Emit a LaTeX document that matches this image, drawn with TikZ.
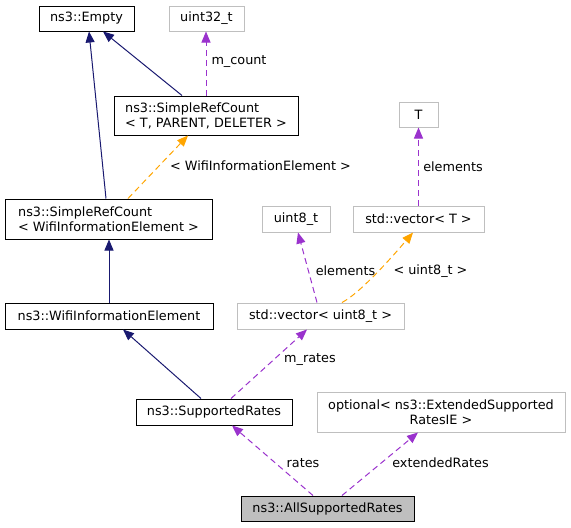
\documentclass[tikz,border=0pt]{standalone}
\usepackage{fontspec}
\setmainfont{DejaVu Sans}
\usetikzlibrary{arrows.meta}
\definecolor{navy}{HTML}{191970}
\definecolor{purp}{HTML}{9A32CD}
\definecolor{orng}{HTML}{FFA500}
\definecolor{gbord}{HTML}{BFBFBF}
\begin{document}
\begin{tikzpicture}[x=1pt,y=-1pt,
  font=\fontsize{12.8pt}{15pt}\selectfont,
  cls/.style={draw=black, line width=1pt, inner sep=0pt, fill=white},
  ext/.style={draw=gbord, line width=1pt, inner sep=0pt, fill=white},
  cur/.style={draw=black, line width=1pt, inner sep=0pt, fill=gbord},
  tip/.style={-{Triangle[length=11pt,width=9pt]}},
  inh/.style={tip, draw=navy, line width=1pt},
  use/.style={tip, draw=purp, line width=1pt, dash pattern=on 6pt off 4pt},
  tpl/.style={tip, draw=orng, line width=1pt, dash pattern=on 6pt off 4pt},
  lbl/.style={inner sep=0pt}]
\useasboundingbox (0,0) rectangle (571,528);
% nodes
\node[cls, minimum width=95pt, minimum height=25pt] (empty) at (86.5,18.5) {ns3::Empty};
\node[ext, minimum width=75pt, minimum height=25pt] (u32) at (206.5,18.5) {uint32\_t};
\node[cls, minimum width=184pt, minimum height=39pt, align=left] (srcT) at (206,115.5) {ns3::SimpleRefCount\\< T, PARENT, DELETER >};
\node[ext, minimum width=39pt, minimum height=25pt] (T) at (418.5,114.5) {T};
\node[cls, minimum width=207pt, minimum height=40pt, align=left] (srcW) at (108.5,219) {ns3::SimpleRefCount\\< WifiInformationElement >};
\node[ext, minimum width=68pt, minimum height=26pt] (u8) at (296,219) {uint8\_t};
\node[ext, minimum width=131pt, minimum height=26pt] (vecT) at (418.5,219) {std::vector< T >};
\node[cls, minimum width=208pt, minimum height=26pt] (wie) at (109,316) {ns3::WifiInformationElement};
\node[ext, minimum width=167pt, minimum height=26pt] (vecU8) at (320.5,316) {std::vector< uint8\_t >};
\node[cls, minimum width=156pt, minimum height=26pt] (sr) at (214,412) {ns3::SupportedRates};
\node[ext, minimum width=248pt, minimum height=40pt, align=center] (opt) at (441,412) {optional< ns3::ExtendedSupported\\RatesIE >};
\node[cur, minimum width=173pt, minimum height=25pt] (asr) at (327.5,508.5) {ns3::AllSupportedRates};
% edges
\draw[inh] ([xshift=-2.5pt]srcW.north) -- ([xshift=2.5pt]empty.south);
\draw[inh] ([xshift=-24pt]srcT.north) -- ([xshift=16.5pt]empty.south);
\draw[use] (srcT.north) -- (srcT.north |- u32.south);
\draw[tpl] ([xshift=19.5pt]srcW.north) -- ([xshift=-18pt]srcT.south);
\draw[inh] (wie.north) -- (wie.north |- srcW.south);
\draw[inh] ([xshift=-13pt]sr.north) -- ([xshift=14pt]wie.south);
\draw[use] ([xshift=17pt]sr.north) -- ([xshift=-13.5pt]vecU8.south);
\draw[use] ([xshift=-3.5pt]vecU8.north) -- ([xshift=2pt]u8.south);
\draw[tpl] ([xshift=21.5pt]vecU8.north) .. controls +(21,-11) and +(-12,14) .. ([xshift=-5.5pt]vecT.south);
\draw[use] (vecT.north) -- (vecT.north |- T.south);
\draw[use] ([xshift=-14.5pt]asr.north) -- ([xshift=18pt]sr.south);
\draw[use] ([xshift=14.5pt]asr.north) -- ([xshift=-23pt]opt.south);
% labels
\node[lbl] (lmcount) at (239,62) {m\_count};
\node[lbl] (lwie) at (260.5,166) {< WifiInformationElement >};
\node[lbl] (lel1) at (345.5,271) {elements};
\node[lbl] (lu8) at (430.5,271) {< uint8\_t >};
\node[lbl] (lel2) at (453,167) {elements};
\node[lbl] (lmrates) at (310,360) {m\_rates};
\node[lbl] (lrates) at (303,463) {rates};
\node[lbl] (lext) at (440.5,463) {extendedRates};
\end{tikzpicture}
\end{document}
